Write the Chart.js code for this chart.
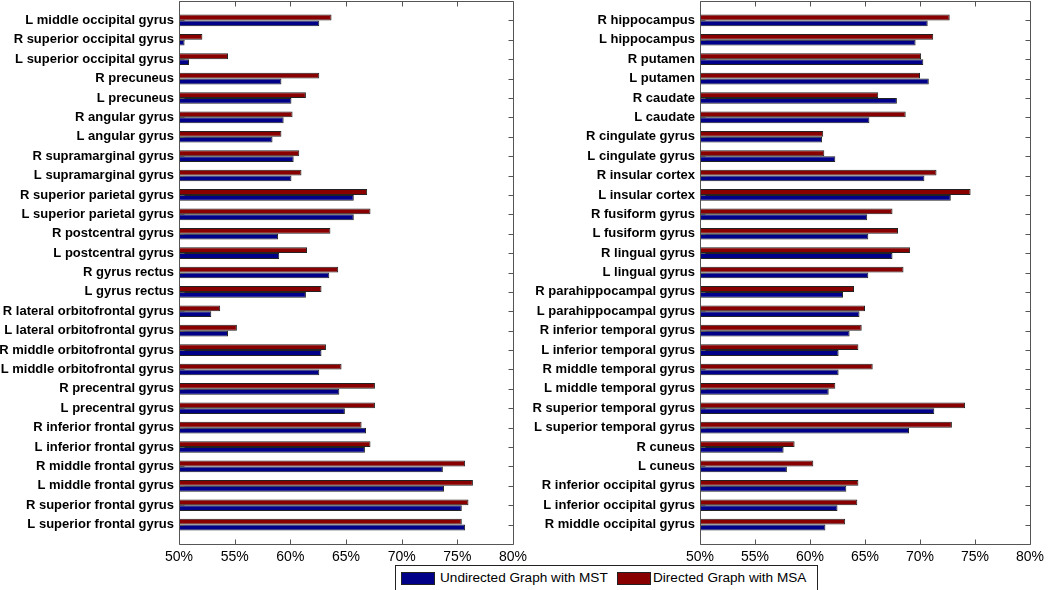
<!DOCTYPE html>
<html>
<head>
<meta charset="utf-8">
<script src="https://cdn.jsdelivr.net/npm/chart.js@4/dist/chart.umd.min.js"></script>
<style>
  html, body { margin: 0; padding: 0; background: #fff; }
  body { width: 1050px; height: 590px; position: relative; overflow: hidden; font-family: "Liberation Sans", Arial, sans-serif; }
  .panel { position: absolute; top: 0; height: 565px; }
  #leftWrap { left: 0; width: 545px; }
  #rightWrap { left: 520px; width: 530px; }
  #legend { position: absolute; left: 395px; top: 565px; width: 421px; height: 24px; border: 1px solid #222; background: #fff; font-size: 13.6px; color: #000; }
  .sw { position: absolute; top: 6px; width: 32px; height: 11px; border: 1px solid #222; }
  .lt { position: absolute; top: 4px; white-space: nowrap; }
</style>
</head>
<body>
<div id="leftWrap" class="panel"><canvas id="leftChart"></canvas></div>
<div id="rightWrap" class="panel"><canvas id="rightChart"></canvas></div>
<div id="legend">
  <div class="sw" style="left:5px;background:#000088"></div><div class="lt" id="lg1" style="left:44px"></div>
  <div class="sw" style="left:221px;background:#880000"></div><div class="lt" id="lg2" style="left:257px"></div>
</div>
<script>
// ---- data (top to bottom) ----
const seriesNames = ["Undirected Graph with MST", "Directed Graph with MSA"];
const xTickValues = [50, 55, 60, 65, 70, 75, 80];

const leftLabels = [
  "L middle occipital gyrus", "R superior occipital gyrus", "L superior occipital gyrus",
  "R precuneus", "L precuneus", "R angular gyrus", "L angular gyrus",
  "R supramarginal gyrus", "L supramarginal gyrus", "R superior parietal gyrus",
  "L superior parietal gyrus", "R postcentral gyrus", "L postcentral gyrus",
  "R gyrus rectus", "L gyrus rectus", "R lateral orbitofrontal gyrus",
  "L lateral orbitofrontal gyrus", "R middle orbitofrontal gyrus", "L middle orbitofrontal gyrus",
  "R precentral gyrus", "L precentral gyrus", "R inferior frontal gyrus",
  "L inferior frontal gyrus", "R middle frontal gyrus", "L middle frontal gyrus",
  "R superior frontal gyrus", "L superior frontal gyrus"
];
const leftMST = [62.6, 50.5, 50.9, 59.2, 60.1, 59.4, 58.4, 60.3, 60.1, 65.7,
                 65.7, 58.9, 59.0, 63.5, 61.4, 52.9, 54.4, 62.8, 62.6,
                 64.4, 64.9, 66.8, 66.7, 73.7, 73.8, 75.4, 75.7];
const leftMSA = [63.7, 52.1, 54.4, 62.6, 61.4, 60.2, 59.2, 60.8, 61.0, 66.9,
                 67.2, 63.6, 61.5, 64.3, 62.8, 53.7, 55.2, 63.2, 64.6,
                 67.6, 67.6, 66.4, 67.2, 75.7, 76.4, 76.0, 75.4];

const rightLabels = [
  "R hippocampus", "L hippocampus", "R putamen", "L putamen", "R caudate", "L caudate",
  "R cingulate gyrus", "L cingulate gyrus", "R insular cortex", "L insular cortex",
  "R fusiform gyrus", "L fusiform gyrus", "R lingual gyrus", "L lingual gyrus",
  "R parahippocampal gyrus", "L parahippocampal gyrus", "R inferior temporal gyrus",
  "L inferior temporal gyrus", "R middle temporal gyrus", "L middle temporal gyrus",
  "R superior temporal gyrus", "L superior temporal gyrus", "R cuneus", "L cuneus",
  "R inferior occipital gyrus", "L inferior occipital gyrus", "R middle occipital gyrus"
];
const rightMST = [70.7, 69.6, 70.3, 70.8, 67.9, 65.4, 61.1, 62.3, 70.4, 72.8,
                  65.2, 65.3, 67.5, 65.3, 63.0, 64.5, 63.6, 62.6, 62.6, 61.7,
                  71.3, 69.0, 57.6, 57.9, 63.3, 62.5, 61.4];
const rightMSA = [72.7, 71.2, 70.1, 70.0, 66.2, 68.7, 61.2, 61.3, 71.5, 74.6,
                  67.5, 68.0, 69.1, 68.5, 64.0, 65.0, 64.7, 64.4, 65.7, 62.3,
                  74.1, 72.9, 58.6, 60.3, 64.4, 64.3, 63.2];

const colorMST = "#000088";
const colorMSA = "#880000";
// ---------------------------------

document.getElementById("lg1").textContent = seriesNames[0];
document.getElementById("lg2").textContent = seriesNames[1];

const FONT = "'Liberation Sans', Arial, sans-serif";

const framePlugin = {
  id: "frame",
  afterDraw(chart) {
    const ctx = chart.ctx, a = chart.chartArea;
    const xs = chart.scales.x, ys = chart.scales.y;
    ctx.save();
    ctx.strokeStyle = "#555";
    ctx.lineWidth = 1;
    ctx.beginPath();
    const L = Math.round(a.left) + 0.5, R = Math.round(a.right) + 0.5;
    const T = Math.round(a.top) + 0.5, B = Math.round(a.bottom) + 0.5;
    ctx.rect(L, T, R - L, B - T);
    const tl = 5;
    xTickValues.forEach(v => {
      const px = Math.round(xs.getPixelForValue(v)) + 0.5;
      ctx.moveTo(px, B); ctx.lineTo(px, B - tl);
      ctx.moveTo(px, T); ctx.lineTo(px, T + tl);
    });
    const n = ys.getLabels().length;
    for (let i = 1; i < n - 1; i++) {
      const py = Math.round(ys.getPixelForValue(i)) + 0.5;
      ctx.moveTo(L, py); ctx.lineTo(L + tl, py);
      ctx.moveTo(R, py); ctx.lineTo(R - tl, py);
    }
    ctx.stroke();
    ctx.restore();
  }
};

function makeChart(id, labels, mst, msa, yWidth, rightPad) {
  const padLabels = [""].concat(labels, [""]);
  const padData = arr => [null].concat(arr, [null]);
  return new Chart(document.getElementById(id), {
    type: "bar",
    data: {
      labels: padLabels,
      datasets: [
        { label: seriesNames[1], data: padData(msa), backgroundColor: colorMSA, borderColor: "#222", borderWidth: 1,
          categoryPercentage: 0.6, barPercentage: 1.0, borderSkipped: false },
        { label: seriesNames[0], data: padData(mst), backgroundColor: colorMST, borderColor: "#222", borderWidth: 1,
          categoryPercentage: 0.6, barPercentage: 1.0, borderSkipped: false }
      ]
    },
    options: {
      indexAxis: "y",
      responsive: true,
      maintainAspectRatio: false,
      animation: false,
      layout: { padding: { top: 1, right: rightPad, left: 0, bottom: 0 } },
      plugins: { legend: { display: false }, tooltip: { enabled: false } },
      scales: {
        x: {
          type: "linear",
          min: 50, max: 80,
          afterBuildTicks: s => { s.ticks = xTickValues.map(v => ({ value: v })); },
          afterFit: s => { s.height = 21; s.paddingLeft = 0; s.paddingRight = 0; },
          grid: { display: false, drawTicks: false },
          border: { display: false },
          ticks: { padding: 5, color: "#000", font: { family: FONT, size: 14 }, callback: v => v + "%" }
        },
        y: {
          type: "category",
          offset: false,
          afterFit: s => { s.width = yWidth; s.paddingTop = 0; s.paddingBottom = 0; },
          grid: { display: false, drawTicks: false },
          border: { display: false },
          ticks: { padding: 5, color: "#000", autoSkip: false, font: { family: FONT, size: 13, weight: "bold" } }
        }
      }
    },
    plugins: [framePlugin]
  });
}

makeChart("leftChart", leftLabels, leftMST, leftMSA, 179, 32);
makeChart("rightChart", rightLabels, rightMST, rightMSA, 180, 20);
</script>
</body>
</html>
